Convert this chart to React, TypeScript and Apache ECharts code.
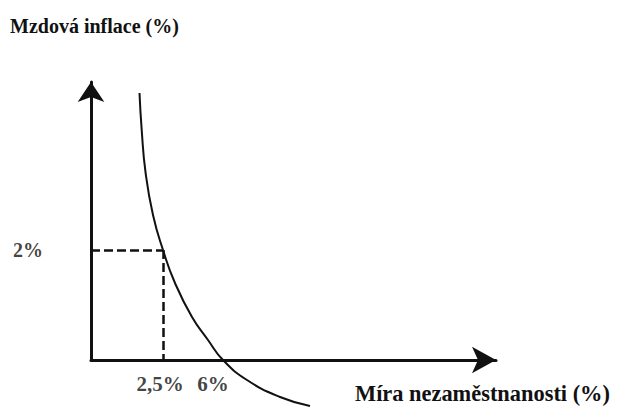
import React, { useEffect, useRef } from "react";
import * as echarts from "echarts";

// Phillips curve sketch (schematic units: x = unemployment axis, y = wage inflation axis)
const curveX = [48.5, 50.7, 54.5, 62, 72, 84, 101, 117, 132, 156, 189, 219];
const curveY = [267, 230, 188, 145, 110, 77, 43, 20, 0, -20, -37, -46];

const refPoint = [72, 110]; // point on curve at 2 % wage inflation
const crossX = 132; // curve crosses zero inflation

const tickLabels = ["2%", "2,5%", "6%"];
const yTitle = "Mzdová inflace (%)";
const xTitle = "Míra nezaměstnanosti (%)";

const FONT = "'Liberation Serif', 'Times New Roman', serif";
const INK = "#111111";

export default function App() {
  const ref = useRef<HTMLDivElement>(null);

  useEffect(() => {
    if (!ref.current) return;
    const chart = echarts.init(ref.current, undefined, { renderer: "svg" });
    const curve = curveX.map((x, i) => [x, curveY[i]]);
    chart.setOption({
      animation: false,
      backgroundColor: "#ffffff",
      grid: { left: 91, top: 82, right: 122, bottom: 57, containLabel: false },
      xAxis: {
        type: "value",
        min: 0,
        max: 405,
        axisLine: {
          show: true,
          onZero: false,
          symbol: ["none", "arrow"],
          symbolSize: [20, 24],
          lineStyle: { color: INK, width: 3 },
        },
        axisTick: { show: false },
        axisLabel: { show: false },
        splitLine: { show: false },
      },
      yAxis: {
        type: "value",
        min: 0,
        max: 278,
        axisLine: {
          show: true,
          onZero: false,
          symbol: ["none", "arrow"],
          symbolSize: [20, 20],
          lineStyle: { color: INK, width: 3 },
        },
        axisTick: { show: false },
        axisLabel: { show: false },
        splitLine: { show: false },
      },
      graphic: [
        {
          type: "text",
          left: 10,
          top: 16,
          style: {
            text: yTitle,
            font: `bold 20px ${FONT}`,
            fill: INK,
          },
        },
        {
          type: "text",
          left: 355,
          top: 382,
          style: {
            text: xTitle,
            font: `bold 22.4px ${FONT}`,
            fill: INK,
          },
        },
      ],
      series: [
        {
          type: "line",
          data: curve,
          smooth: 0.5,
          clip: false,
          symbol: "none",
          lineStyle: { color: INK, width: 2 },
          markLine: {
            silent: true,
            symbol: "none",
            label: { show: false },
            lineStyle: { color: INK, width: 2.5, type: [9, 4] },
            data: [
              [
                { coord: [0, refPoint[1]] },
                { coord: [refPoint[0], refPoint[1]] },
              ],
              [
                { coord: [refPoint[0], refPoint[1]] },
                { coord: [refPoint[0], 0] },
              ],
            ],
          },
        },
        {
          type: "scatter",
          symbolSize: 0,
          clip: false,
          silent: true,
          data: [
            {
              value: [0, refPoint[1]],
              label: {
                show: true,
                formatter: tickLabels[0],
                position: [-78, 0],
                align: "left",
                verticalAlign: "middle",
                fontSize: 20,
              },
            },
            {
              value: [refPoint[0], 0],
              label: {
                show: true,
                formatter: tickLabels[1],
                position: [-3, 24],
                align: "center",
                verticalAlign: "middle",
                fontSize: 21,
              },
            },
            {
              value: [crossX, 0],
              label: {
                show: true,
                formatter: tickLabels[2],
                position: [-10, 24],
                align: "center",
                verticalAlign: "middle",
                fontSize: 21,
              },
            },
          ],
          label: {
            fontFamily: FONT,
            fontWeight: "bold",
            color: INK,
          },
        },
      ],
    });
    return () => chart.dispose();
  }, []);

  return (
    <div
      ref={ref}
      style={{
        position: "absolute",
        left: 0,
        top: 0,
        width: 618,
        height: 417,
        background: "#ffffff",
      }}
    />
  );
}
